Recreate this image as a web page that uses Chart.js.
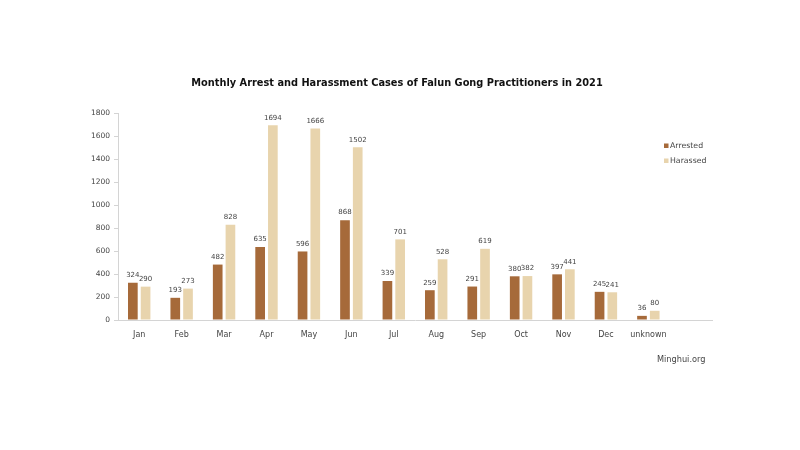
<!DOCTYPE html>
<html>
<head>
<meta charset="utf-8">
<script src="https://cdn.jsdelivr.net/npm/chart.js@4"></script>
<style>
html,body{margin:0;padding:0;background:#fff;}
#wrap{position:relative;width:800px;height:450px;}
</style>
</head>
<body>
<div id="wrap"><canvas id="c" width="800" height="450"></canvas></div>
<script>
const categories = ['Jan','Feb','Mar','Apr','May','Jun','Jul','Aug','Sep','Oct','Nov','Dec','unknown',''];
const arrested = [324,193,482,635,596,868,339,259,291,380,397,245,36,null];
const harassed = [290,273,828,1694,1666,1502,701,528,619,382,441,241,80,null];
const seriesNames = ['Arrested','Harassed'];
const yTicks = [0,200,400,600,800,1000,1200,1400,1600,1800];
const titleText = 'Monthly Arrest and Harassment Cases of Falun Gong Practitioners in 2021';
const sourceText = 'Minghui.org';

const colArrested = '#a66a3a';
const colHarassed = '#e8d4ad';
const axisCol = '#d4d4d4';
const textCol = '#444';
const FONT = '"DejaVu Sans", Verdana, sans-serif';

const extras = {
  id: 'extras',
  afterDatasetsDraw(chart) {
    const ctx = chart.ctx;
    ctx.save();
    ctx.fillStyle = textCol;
    ctx.font = '7px ' + FONT;
    ctx.textAlign = 'center';
    ctx.textBaseline = 'bottom';
    chart.data.datasets.forEach((ds, i) => {
      const meta = chart.getDatasetMeta(i);
      meta.data.forEach((bar, j) => {
        const v = ds.data[j];
        if (v === null || v === undefined) return;
        ctx.fillText(String(v), bar.x, bar.y - 4);
      });
    });
    // title
    ctx.fillStyle = '#111';
    ctx.font = 'bold 9.8px ' + FONT;
    ctx.textBaseline = 'middle';
    ctx.fillText(titleText, 397, 83);
    // legend
    ctx.font = '7.8px ' + FONT;
    ctx.textAlign = 'left';
    const cols = [colArrested, colHarassed];
    seriesNames.forEach((n, i) => {
      const y = 146 + i * 15;
      ctx.fillStyle = cols[i];
      ctx.fillRect(664, y - 2.5, 4.5, 4.5);
      ctx.fillStyle = textCol;
      ctx.fillText(n, 670, y);
    });
    // source
    ctx.font = '8.2px ' + FONT;
    ctx.fillStyle = textCol;
    ctx.fillText(sourceText, 657, 360);
    ctx.restore();
  }
};

new Chart(document.getElementById('c'), {
  type: 'bar',
  data: {
    labels: categories,
    datasets: [
      {label: seriesNames[0], data: arrested, backgroundColor: colArrested, categoryPercentage: 0.6, barPercentage: 0.76},
      {label: seriesNames[1], data: harassed, backgroundColor: colHarassed, categoryPercentage: 0.6, barPercentage: 0.76}
    ]
  },
  options: {
    responsive: false,
    animation: false,
    layout: {padding: {left: 80, right: 88, top: 113, bottom: 105}},
    plugins: {legend: {display: false}, title: {display: false}, tooltip: {enabled: false}},
    scales: {
      x: {
        afterFit(s) { s.height = 25; },
        grid: {display: false},
        border: {color: axisCol},
        ticks: {color: textCol, font: {family: FONT, size: 8}, maxRotation: 0, autoSkip: false, padding: 2}
      },
      y: {
        min: 0, max: 1800,
        afterFit(s) { s.width = 38; },
        afterBuildTicks(s) { s.ticks = yTicks.map(v => ({value: v})); },
        grid: {display: true, drawOnChartArea: false, drawTicks: true, tickLength: 4, color: axisCol},
        border: {color: axisCol},
        ticks: {color: textCol, font: {family: FONT, size: 7.5}, padding: 4, callback: (v) => String(v)}
      }
    }
  },
  plugins: [extras]
});
</script>
</body>
</html>
